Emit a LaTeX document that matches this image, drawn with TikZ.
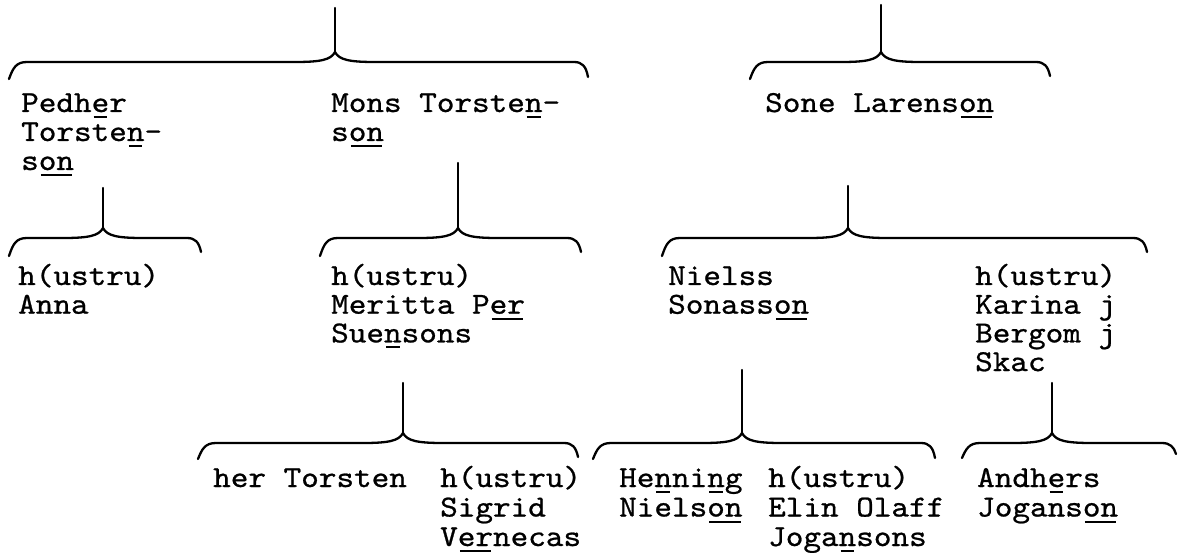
\documentclass[tikz,border=0pt]{standalone}
\usepackage{fontspec}
\newfontfamily\typew{lmmono10-regular.otf}[FakeBold=0.8,FakeStretch=1.1]
\newcommand\uln[1]{\setbox0=\hbox{#1}\rlap{\kern2pt\rule[-6pt]{\dimexpr\wd0-4pt\relax}{2pt}}\box0}
\newcommand\pline[1]{\hbox{#1}}
\newcommand\plines[2][29pt]{\vtop{\baselineskip=#1\lineskiplimit=-100pt\lineskip=0pt\relax #2}}
\newcommand\kinbrace[8]{%
  \coordinate (#8) at (#3,#7);
  \draw[bracket] (#1,#2) .. controls (#1+4,#4+6) and (#1+7,#4) .. (#1+18,#4)
    -- (#3-40,#4) .. controls (#3-15,#4) and (#3-4,#4-2) .. (#3,#4-10)
    .. controls (#3+4,#4-2) and (#3+15,#4) .. (#3+40,#4)
    -- (#5-14,#4) .. controls (#5-6,#4) and (#5-2,#4+4) .. (#5,#6);
  \draw[bracket] (#8) -- (#3,#4-10);
}
\begin{document}
\begin{tikzpicture}[x=1pt,y=-1pt,
  bracket/.style={line width=2.3pt,line cap=round,line join=round},
  person/.style={anchor=base west,inner sep=0pt,
    font=\fontsize{30.5}{29}\selectfont\typew}]
\fill[white] (0,0) rectangle (1179,553);
\useasboundingbox (0,0) rectangle (1179,553);

% tier 1
\kinbrace{9}{79}{335}{62}{588}{77}{8}{topA}
\kinbrace{750}{79}{881}{62}{1050}{76}{5}{topB}
\node[person] (pedher) at (21,112) {\plines{\pline{Pedh\uln{e}r}\pline{Torste\uln{n}-}\pline{s\uln{on}}}};
\node[person] (mons) at (331,112) {\plines{\pline{Mons Torste\uln{n}-}\pline{s\uln{on}}}};
\node[person] (sone) at (765,112) {\plines{\pline{Sone Larens\uln{on}}}};

% tier 2
\kinbrace{9}{256}{103}{238}{201}{252}{188}{topC}
\kinbrace{320}{256}{458}{238}{581}{252}{163}{topD}
\kinbrace{662}{256}{848}{238}{1147}{252}{186}{topE}
\node[person] (anna) at (18,285) {\plines[28.7pt]{\pline{h(ustru)}\pline{Anna}}};
\node[person] (meritta) at (331,285) {\plines[28.7pt]{\pline{h(ustru)}\pline{Meritta P\uln{er}}\pline{Sue\uln{n}sons}}};
\node[person] (nielss) at (668,285) {\plines[28.7pt]{\pline{Nielss}\pline{Sonass\uln{on}}}};
\node[person] (karina) at (975,285) {\plines[28.7pt]{\pline{h(ustru)}\pline{Karina j}\pline{Bergom j}\pline{Skac}}};

% tier 3
\kinbrace{198}{459}{403}{443}{578}{457}{383}{topF}
\kinbrace{593}{459}{742}{443}{935}{458}{370}{topG}
\kinbrace{962}{458}{1052}{443}{1176}{454}{383}{topH}
\node[person] (herT) at (213,487) {\plines[29.5pt]{\pline{her Torsten}}};
\node[person] (sigrid) at (440,487) {\plines[29.5pt]{\pline{h(ustru)}\pline{Sigrid}\pline{V\uln{er}necas}}};
\node[person] (henning) at (619,487) {\plines[29.5pt]{\pline{He\uln{n}ni\uln{n}g}\pline{Niels\uln{on}}}};
\node[person] (elin) at (768,487) {\plines[29.5pt]{\pline{h(ustru)}\pline{Elin Olaff}\pline{Joga\uln{n}sons}}};
\node[person] (andhers) at (977,487) {\plines[29.5pt]{\pline{Andh\uln{e}rs}\pline{Jogans\uln{on}}}};
\end{tikzpicture}
\end{document}
